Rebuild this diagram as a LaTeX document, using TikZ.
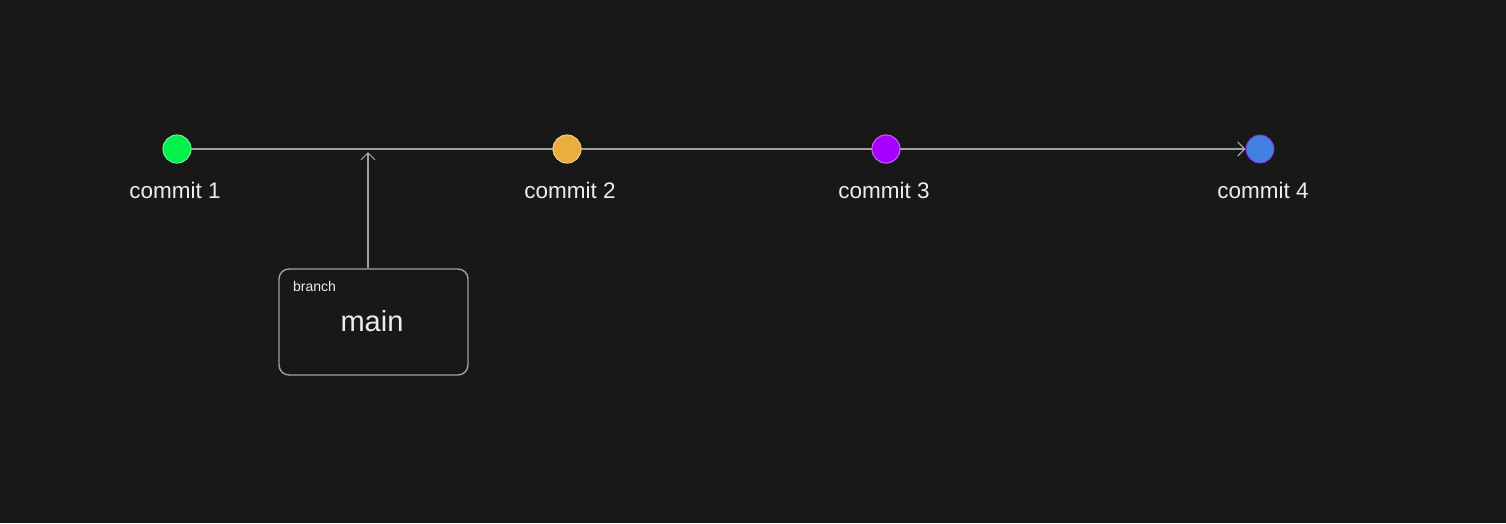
\documentclass[tikz,border=0pt]{standalone}
\usepackage{fontspec}
\setmainfont{Liberation Sans}
\usetikzlibrary{arrows.meta}
\definecolor{bg}{HTML}{181818}
\definecolor{cgreen}{HTML}{05F04A}
\definecolor{corange}{HTML}{EBAD3E}
\definecolor{cpurple}{HTML}{A800FE}
\definecolor{cblue}{HTML}{4381E0}
\definecolor{linec}{HTML}{A0A0A0}
\definecolor{txt}{HTML}{EDEDED}
\tikzset{
  commit/.style={circle, minimum size=28pt, inner sep=0pt, draw=#1!60!white, line width=0.8pt},
  clabel/.style={text=txt, font=\fontsize{22.5}{25}\selectfont, inner sep=0pt, anchor=base},
  link/.style={draw=linec, line width=1.2pt},
  arr/.style={-{Straight Barb[length=7pt,width=14pt,line width=1.2pt]}},
  boxst/.style={draw=linec, line width=1.4pt, rounded corners=10pt, minimum width=189pt, minimum height=106pt, inner sep=0pt}
}
\begin{document}
\begin{tikzpicture}[x=1pt,y=-1pt]
\fill[bg] (0,0) rectangle (1506,523);
\useasboundingbox (0,0) rectangle (1506,523);
\node[commit=cgreen, fill=cgreen] (c1) at (177,149) {};
\node[commit=corange, fill=corange] (c2) at (567,149) {};
\node[commit=cpurple, fill=cpurple] (c3) at (886,149) {};
\node[commit=cpurple, fill=cblue, draw=cpurple!70!cblue] (c4) at (1260,149) {};
\path[link, arr] (c1.east) -- (c4.west);
\node[commit=cgreen, fill=cgreen] at (c1) {};
\node[commit=corange, fill=corange] at (c2) {};
\node[commit=cpurple, fill=cpurple] at (c3) {};
\node[clabel] (l1) at (175,198) {commit 1};
\node[clabel] (l2) at (570,198) {commit 2};
\node[clabel] (l3) at (884,198) {commit 3};
\node[clabel] (l4) at (1263,198) {commit 4};
\node[boxst] (box) at (373.5,322) {};
\node[text=txt, font=\fontsize{14}{16}\selectfont, anchor=base west, inner sep=0pt] (br) at (293,291) {branch};
\node[text=txt, font=\fontsize{29}{32}\selectfont, anchor=base, inner sep=0pt] (mn) at (372,331) {main};
\coordinate (tip) at (368,152);
\path[link, arr] (box.north -| tip) -- (tip);
\end{tikzpicture}
\end{document}
